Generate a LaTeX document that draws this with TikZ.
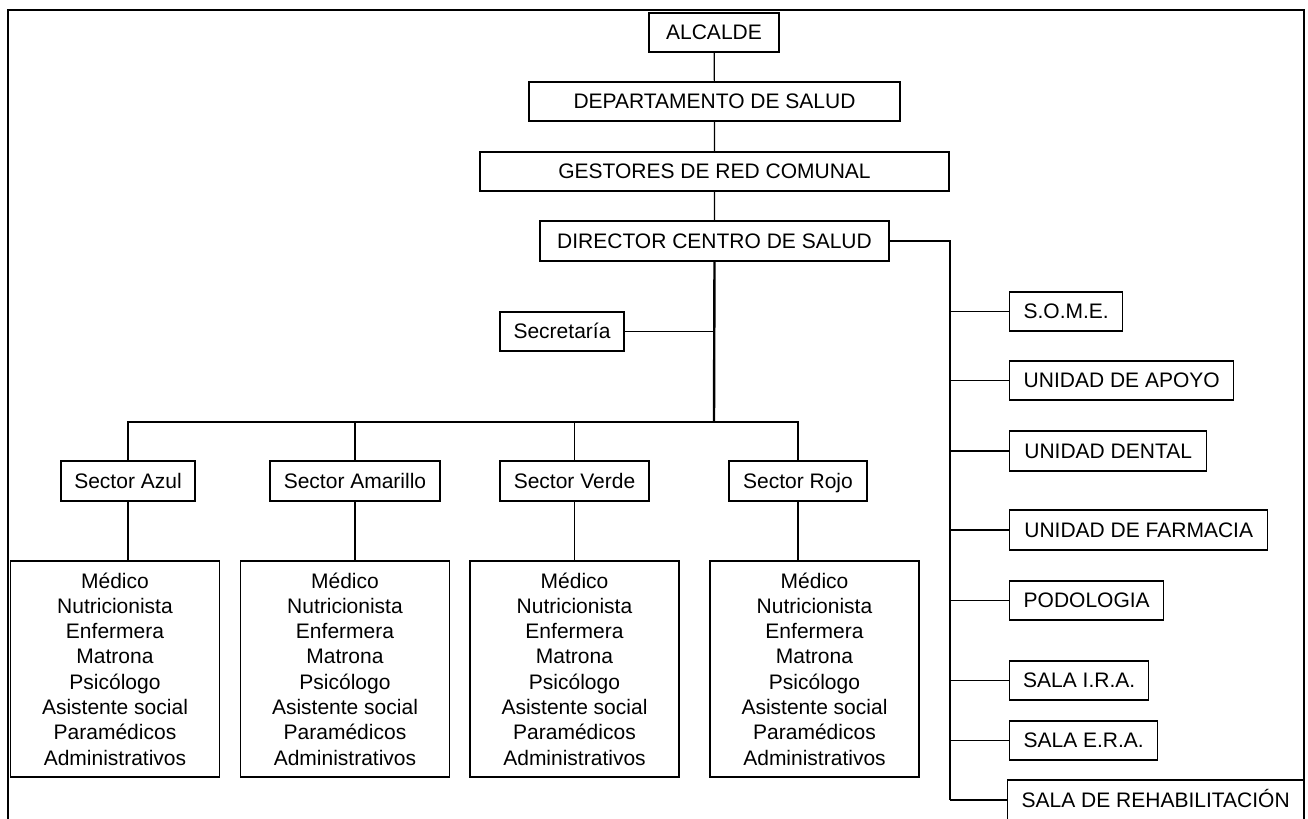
\documentclass[tikz,border=0pt]{standalone}
\usepackage{fontspec}
\setmainfont{Liberation Sans}
\newcommand{\personal}{Médico\\Nutricionista\\Enfermera\\Matrona\\Psicólogo\\Asistente social\\Paramédicos\\Administrativos}
\tikzset{
  caja/.style={draw, line width=0.7pt, inner sep=0pt, minimum height=19.5pt, text height=7.6pt, text depth=0.4pt, font=\fontsize{10.5}{12.6}\selectfont},
  lista/.style={draw, line width=0.7pt, align=center, inner sep=0pt, minimum width=104.5pt, minimum height=108pt, font=\fontsize{10.5}{12.65}\selectfont},
  linea/.style={line width=0.6pt},
  tronco/.style={line width=1.2pt}
}
\begin{document}
\begin{tikzpicture}[x=0.5pt,y=-0.5pt]
\useasboundingbox (0,0) rectangle (1308,819);
\clip (0,0) rectangle (1308,819);
\draw[tronco] (8,830) -- (8,10) -- (1304,10) -- (1304,830);

\node[caja, minimum width=65pt] (alcalde) at (714,32.5) {ALCALDE};
\node[caja, minimum width=185.5pt] (depto) at (714.5,101.5) {DEPARTAMENTO DE SALUD};
\node[caja, minimum width=234.5pt] (gestores) at (714.5,171.5) {GESTORES DE RED COMUNAL};
\node[caja, minimum width=174.5pt, minimum height=20pt] (director) at (714.5,241) {DIRECTOR CENTRO DE SALUD};
\node[caja, minimum width=62pt] (secretaria) at (562,331.5) {Secretaría};

\node[caja, minimum width=67pt, minimum height=20pt] (azul) at (128,481) {Sector Azul};
\node[caja, minimum width=85pt, minimum height=20pt] (amarillo) at (355,481) {Sector Amarillo};
\node[caja, minimum width=74.5pt, minimum height=20pt] (verde) at (574.5,481) {Sector Verde};
\node[caja, minimum width=69pt, minimum height=20pt] (rojo) at (798,481) {Sector Rojo};

\node[lista] (lazul) at (115,669) {\personal};
\node[lista] (lamarillo) at (345,669) {\personal};
\node[lista] (lverde) at (574.5,669) {\personal};
\node[lista] (lrojo) at (814.5,669) {\personal};

\node[caja, anchor=west, minimum width=56.5pt] (some) at (1009,311.5) {S.O.M.E.};
\node[caja, anchor=west, minimum width=112pt] (apoyo) at (1009,380.5) {UNIDAD DE APOYO};
\node[caja, anchor=west, minimum width=98.5pt, minimum height=20pt] (dental) at (1009,451) {UNIDAD DENTAL};
\node[caja, anchor=west, minimum width=129pt, minimum height=20pt] (farmacia) at (1009,530) {UNIDAD DE FARMACIA};
\node[caja, anchor=west, minimum width=77pt] (podologia) at (1009,600.5) {PODOLOGIA};
\node[caja, anchor=west, minimum width=69.5pt] (ira) at (1009,680.5) {SALA I.R.A.};
\node[caja, anchor=west, minimum width=74pt] (era) at (1009,740.5) {SALA E.R.A.};
\node[caja, anchor=west, minimum width=148pt, minimum height=20pt] (rehab) at (1007,800) {SALA DE REHABILITACIÓN};

\coordinate (bus) at (714,422);
\coordinate (tr) at (950,800);

\draw[linea] (alcalde) -- (depto) -- (gestores) -- (director);
\draw[tronco] (director.south) -- (bus);
\draw[linea] (secretaria.east) -- (secretaria.east -| bus);
\draw[linea] (azul.north) |- (bus) -| (rojo.north);
\draw[linea] (amarillo.north) -- (amarillo.north |- bus);
\draw[linea] (verde.north) -- (verde.north |- bus);
\draw[linea] (azul) -- (azul |- lazul.north);
\draw[linea] (amarillo) -- (amarillo |- lamarillo.north);
\draw[linea] (verde) -- (lverde);
\draw[linea] (rojo) -- (rojo |- lrojo.north);

\draw[tronco] (director.east) -| (tr);
\draw[linea] (tr) -- (rehab.west);
\draw[linea] (some.west) -- (some.west -| tr);
\draw[linea] (apoyo.west) -- (apoyo.west -| tr);
\draw[linea] (dental.west) -- (dental.west -| tr);
\draw[linea] (farmacia.west) -- (farmacia.west -| tr);
\draw[linea] (podologia.west) -- (podologia.west -| tr);
\draw[linea] (ira.west) -- (ira.west -| tr);
\draw[linea] (era.west) -- (era.west -| tr);
\end{tikzpicture}
\end{document}
